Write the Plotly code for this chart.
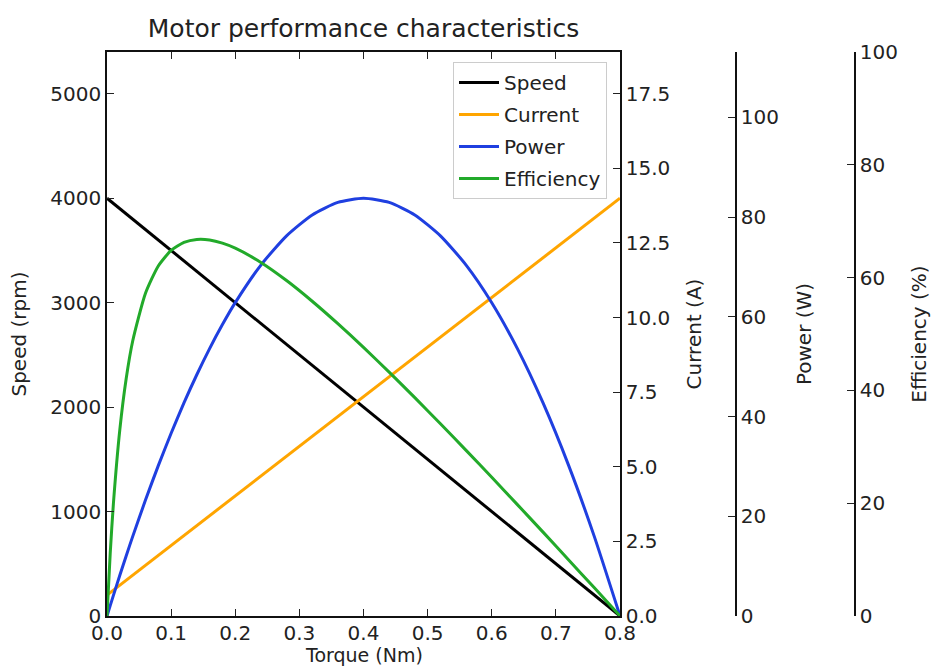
import plotly.graph_objects as go

torque = [0, 0.005, 0.01, 0.02, 0.03, 0.04, 0.06, 0.08, 0.10, 0.12, 0.14, 0.16, 0.18, 0.20,
          0.24, 0.28, 0.32, 0.36, 0.40, 0.44, 0.48, 0.52, 0.56, 0.60, 0.64, 0.68, 0.72, 0.76, 0.80]
speed = [4000, 3975, 3950, 3900, 3850, 3800, 3700, 3600, 3500, 3400, 3300, 3200, 3100, 3000,
         2800, 2600, 2400, 2200, 2000, 1800, 1600, 1400, 1200, 1000, 800, 600, 400, 200, 0]
current = [0.70, 0.783, 0.866, 1.033, 1.199, 1.365, 1.698, 2.030, 2.363, 2.695, 3.028, 3.360, 3.693, 4.025,
           4.690, 5.355, 6.020, 6.685, 7.350, 8.015, 8.680, 9.345, 10.010, 10.675, 11.340, 12.005, 12.670, 13.335, 14.0]
power = [0, 2.081, 4.136, 8.168, 12.095, 15.917, 23.248, 30.159, 36.652, 42.726, 48.381, 53.617, 58.434, 62.832,
         70.372, 76.236, 80.425, 82.938, 83.776, 82.938, 80.425, 76.236, 70.372, 62.832, 53.617, 42.726, 30.159, 15.917, 0]
efficiency = [0, 11.1, 19.95, 33.05, 42.15, 48.72, 57.22, 62.07, 64.81, 66.23, 66.76, 66.67, 66.11, 65.22,
              62.69, 59.48, 55.81, 51.83, 47.62, 43.23, 38.71, 34.08, 29.37, 24.59, 19.75, 14.87, 9.94, 4.99, 0]

x_ticks = [0.0, 0.1, 0.2, 0.3, 0.4, 0.5, 0.6, 0.7, 0.8]
speed_ticks = [0, 1000, 2000, 3000, 4000, 5000]
current_ticks = [0.0, 2.5, 5.0, 7.5, 10.0, 12.5, 15.0, 17.5]
power_ticks = [0, 20, 40, 60, 80, 100]
eff_ticks = [0, 20, 40, 60, 80, 100]

FONT = "DejaVu Sans"
W, H = 931, 668
L, R, T, B = 107, 620, 52, 616
plot_w = W - L
dom_right = (R - L) / plot_w
pos_power = (736 - L) / plot_w
pos_eff = (855 - L) / plot_w

colors = {"Speed": "#000000", "Current": "#FFA500", "Power": "#1f3fe0", "Efficiency": "#22aa2a"}

fig = go.Figure()
fig.add_trace(go.Scatter(x=torque, y=speed, name="Speed", mode="lines", legendgroup="a",
                         line=dict(color=colors["Speed"], width=3), yaxis="y"))
fig.add_trace(go.Scatter(x=torque, y=current, name="Current", mode="lines", legendgroup="b",
                         line=dict(color=colors["Current"], width=3), yaxis="y2"))
fig.add_trace(go.Scatter(x=torque, y=power, name="Power", mode="lines", legendgroup="c",
                         line=dict(color=colors["Power"], width=3, shape="spline", smoothing=0.6), yaxis="y3"))
fig.add_trace(go.Scatter(x=torque, y=efficiency, name="Efficiency", mode="lines", legendgroup="d",
                         line=dict(color=colors["Efficiency"], width=3, shape="spline", smoothing=0.6), yaxis="y4"))

tickfont = dict(family=FONT, size=20, color="#222")
titlefont = dict(family=FONT, size=20, color="#222")

common = dict(showgrid=False, zeroline=False, showline=True, linecolor="#111", linewidth=1.5,
              ticks="inside", ticklen=7, tickwidth=1.2, tickcolor="#222", tickfont=tickfont,
              automargin=False)

fig.update_layout(
    width=W, height=H,
    margin=dict(l=L, r=0, t=T, b=H - B),
    paper_bgcolor="white", plot_bgcolor="white",
    title=dict(text="Motor performance characteristics", x=(L + R) / 2 / W, xanchor="center",
               y=1 - 28 / H, yanchor="middle", font=dict(family=FONT, size=25, color="#222")),
    xaxis=dict(domain=[0, dom_right], range=[0, 0.8], tickvals=x_ticks, tickformat=".1f",
               mirror="ticks", ticklabelstandoff=-2, **common),
    yaxis=dict(range=[0, 5400], tickvals=speed_ticks,
               title=dict(text="Speed (rpm)", font=titlefont, standoff=18), **common),
    yaxis2=dict(range=[0, 18.9], tickvals=current_ticks, tickformat=".1f", overlaying="y", side="right",
                anchor="x", title=dict(text="Current (A)", font=titlefont, standoff=18), **common),
    yaxis3=dict(range=[0, 113.1], tickvals=power_ticks, overlaying="y", side="right", anchor="free",
                position=pos_power, title=dict(text="Power (W)", font=titlefont, standoff=18), **common),
    yaxis4=dict(range=[0, 100], tickvals=eff_ticks, overlaying="y", side="right", anchor="free",
                position=pos_eff, title=dict(text="Efficiency (%)", font=titlefont, standoff=26), **common),
    legend=dict(x=(607 - L) / plot_w, xanchor="right", y=1 - (62 - T) / (B - T), yanchor="top",
                bgcolor="white", bordercolor="#cccccc", borderwidth=1,
                font=dict(family=FONT, size=20, color="#222"), tracegroupgap=3, itemwidth=40),
    annotations=[dict(text="Torque (Nm)", xref="paper", yref="paper", x=dom_right / 2,
                      y=-(668 - B) / (B - T), xanchor="center", yanchor="bottom", showarrow=False,
                      font=dict(family=FONT, size=19, color="#222"))],
    showlegend=True,
)

fig.write_html("out.html")
